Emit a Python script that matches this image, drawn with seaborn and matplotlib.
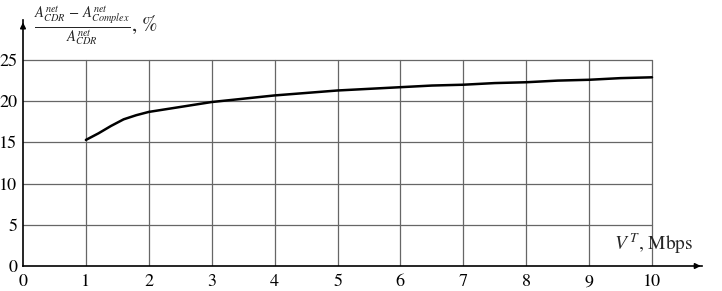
import matplotlib
matplotlib.use("Agg")
import matplotlib.pyplot as plt
import seaborn as sns
import pandas as pd
import numpy as np

# data
speed_mbps = [1.0, 1.2, 1.4, 1.6, 1.8, 2.0, 2.5, 3.0, 3.5, 4.0, 4.5, 5.0, 5.5, 6.0, 6.5, 7.0, 7.5, 8.0, 8.5, 9.0, 9.5, 10.0]
gain_pct = [15.3, 16.1, 17.0, 17.8, 18.3, 18.7, 19.3, 19.9, 20.3, 20.7, 21.0, 21.3, 21.5, 21.7, 21.9, 22.0, 22.2, 22.3, 22.5, 22.6, 22.8, 22.9]
x_ticks = [0, 1, 2, 3, 4, 5, 6, 7, 8, 9, 10]
y_ticks = [0, 5, 10, 15, 20, 25]

sns.set_style("white")
plt.rcParams['font.family'] = ['STIXGeneral', 'DejaVu Serif']
plt.rcParams['mathtext.fontset'] = 'stix'

df = pd.DataFrame({"x": speed_mbps, "y": gain_pct})

fig = plt.figure(figsize=(7.22, 2.91), dpi=100)
W, H = 722, 291
x0px, x10px = 23, 652
y0px, y25px = 266, 60
ux = (x10px - x0px) / 10
uy = (y0px - y25px) / 25
xmax = 10.8
ymax = 29.8
left = x0px / W
bottom = (H - y0px) / H
ax = fig.add_axes([left, bottom, xmax * ux / W, ymax * uy / H])

# grid within data area
for xv in x_ticks[1:]:
    ax.plot([xv, xv], [0, 25], color="#666666", lw=0.9, zorder=1)
for yv in y_ticks[1:]:
    ax.plot([0, 10], [yv, yv], color="#666666", lw=0.9, zorder=1)

sns.lineplot(data=df, x="x", y="y", ax=ax, color="black", lw=1.8, zorder=3)

ax.set_xlim(0, xmax)
ax.set_ylim(0, ymax)
for s in ["top", "right"]:
    ax.spines[s].set_visible(False)
for s in ["left", "bottom"]:
    ax.spines[s].set_color("black")
    ax.spines[s].set_linewidth(1.2)

ax.set_xticks(x_ticks)
ax.set_yticks(y_ticks)
ax.set_xticks(np.arange(0, 10.81, 0.2), minor=True)
ax.tick_params(axis="x", which="major", direction="out", length=4, width=1, labelsize=13, pad=2, colors="black")
ax.tick_params(axis="x", which="minor", direction="out", length=2.5, width=0.8)
ax.tick_params(axis="y", which="major", direction="out", length=3, width=1, labelsize=13, pad=1, colors="black")
ax.set_xlabel("")
ax.set_ylabel("")

# arrows
ax.annotate("", xy=(xmax + 0.02, 0), xytext=(xmax - 0.15, 0),
            arrowprops=dict(arrowstyle="-|>", color="black", lw=1.2, mutation_scale=8),
            annotation_clip=False)
ax.annotate("", xy=(0, ymax + 0.1), xytext=(0, ymax - 1.2),
            arrowprops=dict(arrowstyle="-|>", color="black", lw=1.2, mutation_scale=8),
            annotation_clip=False)

ax.text(9.4, 1.2, r"$V^{\,T}$, Mbps", fontsize=14, ha="left", va="bottom")
fig.text(34 / W, 1 - 26 / H,
         r"$\frac{A^{net}_{CDR}\,-\,A^{net}_{Complex}}{A^{net}_{CDR}}$, %",
         fontsize=15, ha="left", va="center")

fig.savefig("out.png", dpi=100)
